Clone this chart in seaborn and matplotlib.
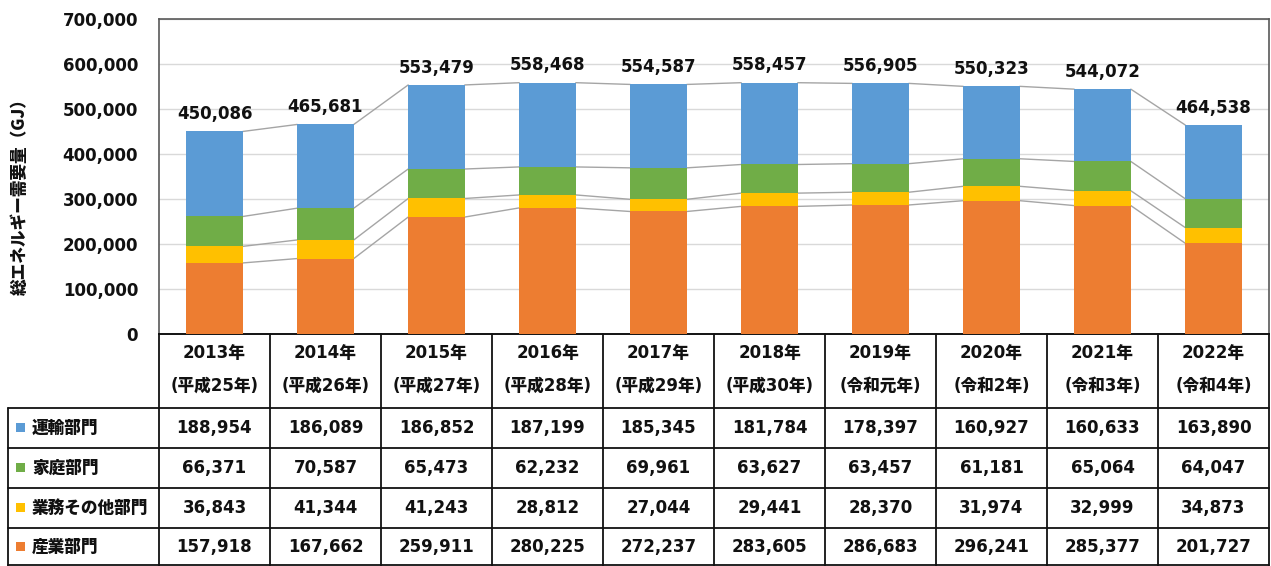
import matplotlib
matplotlib.use("Agg")
import matplotlib.pyplot as plt
import seaborn as sns
import numpy as np
import pandas as pd
from matplotlib.lines import Line2D

# ---------------- data ----------------
years = ["2013年", "2014年", "2015年", "2016年", "2017年",
         "2018年", "2019年", "2020年", "2021年", "2022年"]
eras = ["(平成25年)", "(平成26年)", "(平成27年)", "(平成28年)", "(平成29年)",
        "(平成30年)", "(令和元年)", "(令和2年)", "(令和3年)", "(令和4年)"]
series_names = ["運輸部門", "家庭部門", "業務その他部門", "産業部門"]
transport = [188954, 186089, 186852, 187199, 185345, 181784, 178397, 160927, 160633, 163890]
household = [66371, 70587, 65473, 62232, 69961, 63627, 63457, 61181, 65064, 64047]
business = [36843, 41344, 41243, 28812, 27044, 29441, 28370, 31974, 32999, 34873]
industry = [157918, 167662, 259911, 280225, 272237, 283605, 286683, 296241, 285377, 201727]
totals = [450086, 465681, 553479, 558468, 554587, 558457, 556905, 550323, 544072, 464538]
y_ticks = [0, 100000, 200000, 300000, 400000, 500000, 600000, 700000]
y_label = "総エネルギー需要量（GJ）"

colors = {"運輸部門": "#5B9BD5", "家庭部門": "#70AD47",
          "業務その他部門": "#FFC000", "産業部門": "#ED7D31"}

# ---------------- style ----------------
sns.set_style("white")
plt.rcParams['font.family'] = ['DejaVu Sans', 'Noto Sans CJK JP']
plt.rcParams['font.weight'] = 'bold'
TXT = "#111111"

W, H = 1271, 566
fig = plt.figure(figsize=(W / 100, H / 100), dpi=100)

px_l, px_r, px_t, px_b = 159, 1269, 19, 334
ax = fig.add_axes([px_l / W, 1 - px_b / H, (px_r - px_l) / W, (px_b - px_t) / H])

cats = [f"c{i}" for i in range(len(years))]
c1 = np.array(industry)
c2 = c1 + np.array(business)
c3 = c2 + np.array(household)
c4 = c3 + np.array(transport)
layers = [(c4, colors["運輸部門"]), (c3, colors["家庭部門"]),
          (c2, colors["業務その他部門"]), (c1, colors["産業部門"])]

bw = 0.51
for cum, col in layers:
    df = pd.DataFrame({"cat": cats, "val": cum})
    sns.barplot(data=df, x="cat", y="val", color=col, saturation=1,
                width=bw, ax=ax, zorder=3, errorbar=None, linewidth=0)

# series lines
for cum, _ in layers:
    for i in range(len(cats) - 1):
        ax.plot([i + bw / 2, i + 1 - bw / 2], [cum[i], cum[i + 1]],
                color="#A5A5A5", lw=1.0, zorder=2)

# totals
for i, tot in enumerate(totals):
    ax.annotate(f"{tot:,}", (i, c4[i]), xytext=(0, 6), textcoords="offset points",
                ha="center", va="bottom", fontsize=12, fontweight="bold", color=TXT)

ax.set_xlim(-0.5, len(cats) - 0.5)
ax.set_ylim(0, 700000)
ax.set_yticks(y_ticks)
ax.set_yticklabels([f"{v:,}" for v in y_ticks], fontsize=12, fontweight="bold", color=TXT)
ax.tick_params(axis="y", length=0, pad=15)
ax.set_xticks([])
ax.set_xlabel("")
ax.set_ylabel("")
ax.yaxis.grid(True, color="#D9D9D9", lw=1.0, zorder=0)
ax.set_axisbelow(True)
for s in ["left", "top", "right"]:
    ax.spines[s].set_color("#595959")
    ax.spines[s].set_linewidth(1.2)
ax.spines["bottom"].set_color("black")
ax.spines["bottom"].set_linewidth(1.3)

fig.text(20 / W, 1 - 193 / H, y_label, rotation=90, ha="center", va="center",
         fontsize=12, fontweight="heavy", color=TXT,
         family=['Noto Sans CJK JP', 'DejaVu Sans'])

# ---------------- data table ----------------
tax = fig.add_axes([0, 0, 1, 1], zorder=5)
tax.set_xlim(0, W)
tax.set_ylim(H, 0)
tax.axis("off")

col_w = (px_r - px_l) / len(years)
row_edges = [334, 408, 448, 488, 528, 566]
lc = "#111111"
lw = 1.3
for yv in row_edges[1:-1]:
    tax.add_line(Line2D([8, px_r], [yv, yv], color=lc, lw=lw))
tax.add_line(Line2D([8, px_r], [565.4, 565.4], color=lc, lw=lw))
for j in range(len(years) + 1):
    xv = px_l + j * col_w
    tax.add_line(Line2D([xv, xv], [334, 566], color=lc, lw=lw))
tax.add_line(Line2D([8, 8], [408, 566], color=lc, lw=lw))

for j in range(len(years)):
    xc = px_l + (j + 0.5) * col_w
    tax.text(xc, 353, years[j], ha="center", va="center", fontsize=12,
             fontweight="heavy", color=TXT)
    tax.text(xc, 386, eras[j], ha="center", va="center", fontsize=12,
             fontweight="heavy", color=TXT)

rows = [transport, household, business, industry]
for r, (name, vals) in enumerate(zip(series_names, rows)):
    yc = (row_edges[r + 1] + row_edges[r + 2]) / 2
    tax.add_patch(plt.Rectangle((16, yc - 5), 9, 9, color=colors[name], lw=0))
    tax.text(32, yc, name, ha="left", va="center", fontsize=12, fontweight="heavy",
             color=TXT, family=['Noto Sans CJK JP', 'DejaVu Sans'])
    for j, v in enumerate(vals):
        xc = px_l + (j + 0.5) * col_w
        tax.text(xc, yc, f"{v:,}", ha="center", va="center", fontsize=12,
                 fontweight="bold", color=TXT)

fig.savefig("out.png", dpi=100)
